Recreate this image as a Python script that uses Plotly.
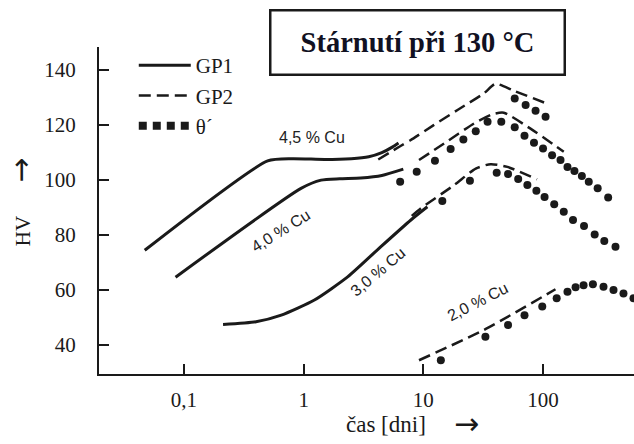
import math
import plotly.graph_objects as go

# ---------------- data ----------------
# GP1 (solid) curves: time [days], HV
t_45_gp1 = [0.047, 0.5, 0.8, 1.5, 2.5, 3.5, 4.5, 5.5, 6.2]
hv_45_gp1 = [74.5, 107, 107.8, 107.5, 107.8, 108.5, 110, 112, 113.5]
t_40_gp1 = [0.085, 0.95, 1.4, 2.0, 3.0, 4.5, 6.8]
hv_40_gp1 = [64.7, 97, 100, 100.5, 100.8, 101.7, 104]
t_30_gp1 = [0.212, 0.4, 0.65, 1.23, 2.33, 4.42, 7.87, 10.8]
hv_30_gp1 = [47.5, 48.5, 50.9, 56.4, 64.8, 75.8, 85.5, 90.3]

# GP2 (dashed) curves
t_45_gp2 = [4.2, 6.5, 7.8, 12.2, 19.3, 32, 40, 57, 105]
hv_45_gp2 = [107.5, 112.5, 114.5, 120, 125.5, 131.5, 135, 132.5, 128]
t_40_gp2 = [9.2, 14.9, 26.5, 38, 47, 78, 149]
hv_40_gp2 = [107.3, 113.3, 120.6, 124, 124.5, 118.8, 110.3]
t_30_gp2 = [8.0, 9.5, 18.1, 27.4, 36.5, 50.4, 89]
hv_30_gp2 = [87, 89.7, 98.2, 104.2, 105.8, 104.8, 100.3]
t_20_gp2 = [9.2, 32, 127]
hv_20_gp2 = [34.5, 45.5, 60.3]

# theta' (dotted) points
t_45_th = [58, 71.5, 86.6, 105]
hv_45_th = [129.7, 127.3, 125.2, 123]
t_40_th = [6.4, 8.8, 12.5, 16.9, 21.6, 27.4, 34.4, 44.8, 58, 70, 84, 100,
           119, 140, 160, 183, 211, 241, 286, 350]
hv_40_th = [99.4, 103, 107, 111.3, 114.8, 117.8, 121.2, 121.2, 119.2, 116.1,
            113.6, 111.5, 109, 107.3, 104.8, 103.3, 101.5, 99.4, 97, 93.7]
t_30_th = [14.4, 24.5, 41, 51, 62, 74, 88, 103, 124, 149, 178, 220, 270, 325, 403]
hv_30_th = [92.4, 99.8, 102.7, 102.2, 100.4, 98.2, 96.1, 93.9, 91.2, 88.5,
            85.5, 83.3, 80.2, 77.9, 75.8]
t_20_th = [14, 33, 51, 70, 98.5, 130, 160, 187, 218, 261, 320, 388, 470, 570]
hv_20_th = [34.5, 43, 47.3, 50.9, 54, 57, 59.4, 61, 61.8, 62.1, 61.2, 60, 58.8, 57]

# curve labels
label_text = ["4,5 % Cu", "4,0 % Cu", "3,0 % Cu", "2,0 % Cu"]
label_t = [1.18, 0.65, 4.2, 28.7]
label_hv = [115.6, 81.5, 66.7, 55.7]
label_angle = [0, -32, -40, -27]

x_tickvals = [0.1, 1, 10, 100]
x_ticktext = ["0,1", "1", "10", "100"]
y_tickvals = [40, 60, 80, 100, 120, 140]

INK = "#1a1a1a"
SERIF = "Liberation Serif"
SANS = "Liberation Sans"

fig = go.Figure()

gp1 = [(t_45_gp1, hv_45_gp1), (t_40_gp1, hv_40_gp1), (t_30_gp1, hv_30_gp1)]
for i, (t, hv) in enumerate(gp1):
    fig.add_trace(go.Scatter(x=t, y=hv, mode="lines", line=dict(color=INK, width=3, shape="spline", smoothing=0.6),
                             name="GP1", legendgroup="gp1", showlegend=(i == 0)))

gp2 = [(t_45_gp2, hv_45_gp2), (t_40_gp2, hv_40_gp2), (t_30_gp2, hv_30_gp2), (t_20_gp2, hv_20_gp2)]
for i, (t, hv) in enumerate(gp2):
    fig.add_trace(go.Scatter(x=t, y=hv, mode="lines",
                             line=dict(color=INK, width=2.5, dash="12px,6px", shape="spline", smoothing=0.6),
                             name="GP2", legendgroup="gp2", showlegend=(i == 0)))

th = [(t_45_th, hv_45_th), (t_40_th, hv_40_th), (t_30_th, hv_30_th), (t_20_th, hv_20_th)]
for i, (t, hv) in enumerate(th):
    fig.add_trace(go.Scatter(x=t, y=hv, mode="markers", marker=dict(color=INK, size=8),
                             name="θ´", legendgroup="th", showlegend=False))
# legend entry for θ´ drawn as a row of dots (no data of its own)
fig.add_trace(go.Scatter(x=[None], y=[None], mode="lines", name="θ´", legendgroup="th",
                         line=dict(color=INK, width=8, dash="8px,6px"), hoverinfo="skip"))

for txt, t, hv, ang in zip(label_text, label_t, label_hv, label_angle):
    fig.add_annotation(x=math.log10(t), y=hv, xref="x", yref="y", text=txt, showarrow=False, textangle=ang,
                       xanchor="center", yanchor="middle",
                       font=dict(family=SANS, size=16, color="#222"))

# axis titles
fig.add_annotation(x=0.536, y=-0.153, xref="paper", yref="paper", text="čas [dni]", showarrow=False,
                   xanchor="center", yanchor="middle", font=dict(family=SERIF, size=23, color=INK))
fig.add_annotation(x=0.686, y=-0.150, xref="paper", yref="paper", text="→", showarrow=False,
                   xanchor="center", yanchor="middle", font=dict(family="DejaVu Sans", size=30, color=INK))
fig.add_annotation(x=-0.142, y=0.437, xref="paper", yref="paper", text="HV", showarrow=False, textangle=-90,
                   xanchor="center", yanchor="middle", font=dict(family=SERIF, size=21, color=INK))
fig.add_annotation(x=-0.146, y=0.624, xref="paper", yref="paper", text="→", showarrow=False, textangle=-90,
                   xanchor="center", yanchor="middle", font=dict(family="DejaVu Sans", size=30, color=INK))

# boxed title
fig.add_annotation(x=0.596, y=1.014, xref="paper", yref="paper", text="<b>Stárnutí při 130 °C</b>",
                   showarrow=False, width=292, height=62, bordercolor=INK, borderwidth=2.5, borderpad=0,
                   xanchor="center", yanchor="middle",
                   bgcolor="white", font=dict(family=SERIF, size=28.5, color="#111122"))

fig.update_layout(
    width=634, height=444,
    margin=dict(l=99, r=0, t=47, b=70),
    paper_bgcolor="white", plot_bgcolor="white",
    showlegend=True,
    legend=dict(x=0.065, y=1.006, xanchor="left", yanchor="top", bgcolor="rgba(0,0,0,0)",
                font=dict(family=SERIF, size=21, color=INK), itemwidth=52, tracegroupgap=0),
    xaxis=dict(type="log", range=[-1.71, 2.76], tickvals=x_tickvals, ticktext=x_ticktext,
               showline=True, linecolor=INK, linewidth=2, ticks="inside", ticklen=10, tickwidth=2,
               tickcolor=INK, showgrid=False, zeroline=False, ticklabelstandoff=6,
               tickfont=dict(family=SERIF, size=21, color=INK)),
    yaxis=dict(range=[29.5, 148.4], tickvals=y_tickvals,
               showline=True, linecolor=INK, linewidth=2, ticks="inside", ticklen=10, tickwidth=2,
               tickcolor=INK, showgrid=False, zeroline=False, ticklabelstandoff=17,
               tickfont=dict(family=SERIF, size=21, color=INK)),
)

fig.write_html("out.html")
